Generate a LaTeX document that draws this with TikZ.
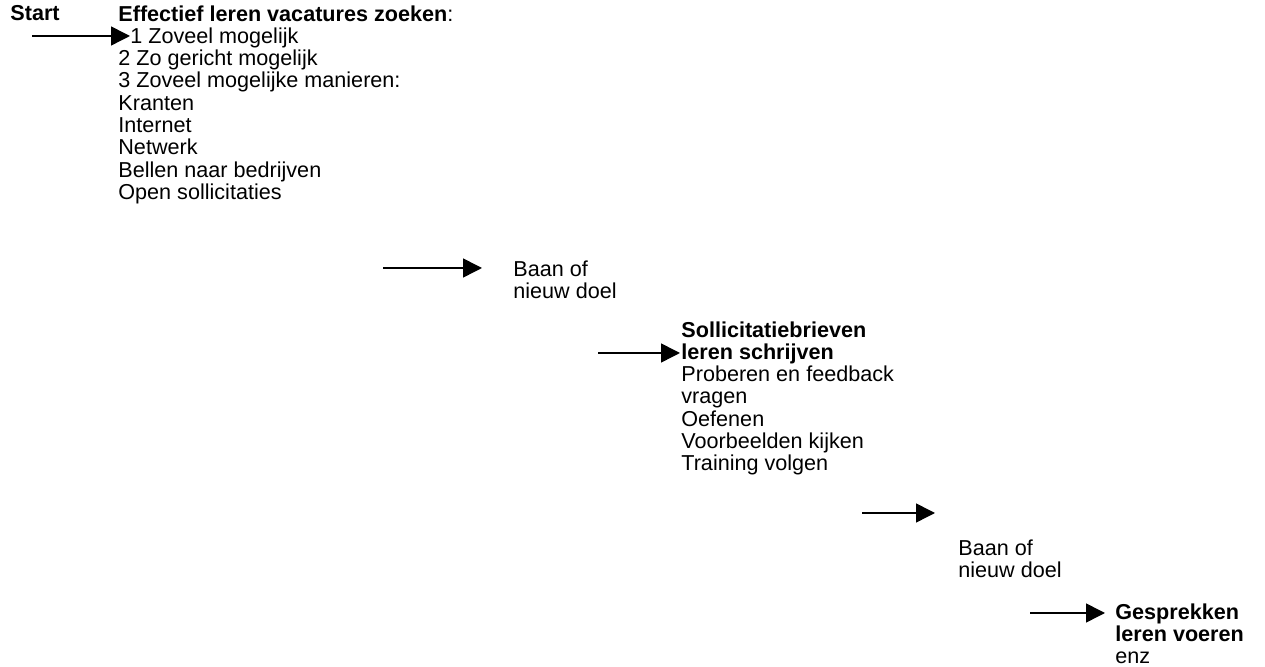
\documentclass[tikz,border=0pt]{standalone}
\usepackage{fontspec}
\setmainfont{Liberation Sans}
\usetikzlibrary{arrows.meta, positioning}

\begin{document}
\begin{tikzpicture}[x=0.5pt, y=-0.5pt,
  every node/.style={font=\fontsize{10.8}{11.15}\selectfont, inner sep=0pt, anchor=north west, align=left},
  stap/.style={-{Triangle[length=9.5pt, width=9.5pt]}, line width=0.75pt}]
  \useasboundingbox (0,0) rectangle (1265,667);

  \node (start) at (10,5) {\textbf{Start}};
  \node (zoeken) at (118,5) {\textbf{Effectief leren vacatures zoeken}:\\
    \hspace{6pt}1 Zoveel mogelijk\\2 Zo gericht mogelijk\\3 Zoveel mogelijke manieren:\\
    Kranten\\Internet\\Netwerk\\Bellen naar bedrijven\\Open sollicitaties};
  \node (baan1) at (513,260) {Baan of\\nieuw doel};
  \node (brieven) at (681,321) {\textbf{Sollicitatiebrieven}\\\textbf{leren schrijven}\\
    Proberen en feedback\\vragen\\Oefenen\\Voorbeelden kijken\\Training volgen};
  \node (baan2) at (958,539) {Baan of\\nieuw doel};
  \node (gesprek) at (1115,603) {\textbf{Gesprekken}\\\textbf{leren voeren}\\enz};

  % pijlen
  \coordinate (p1a) at (32,36);   \coordinate (p1b) at (130,36);
  \coordinate (p2a) at (383,268); \coordinate (p2b) at (482,268);
  \coordinate (p3a) at (598,353); \coordinate (p3b) at (680,353);
  \coordinate (p4a) at (862,513); \coordinate (p4b) at (935,513);
  \coordinate (p5a) at (1030,613); \coordinate (p5b) at (1105,613);
  \draw[stap] (p1a) -- (p1b);
  \draw[stap] (p2a) -- (p2b);
  \draw[stap] (p3a) -- (p3b);
  \draw[stap] (p4a) -- (p4b);
  \draw[stap] (p5a) -- (p5b);
\end{tikzpicture}
\end{document}
